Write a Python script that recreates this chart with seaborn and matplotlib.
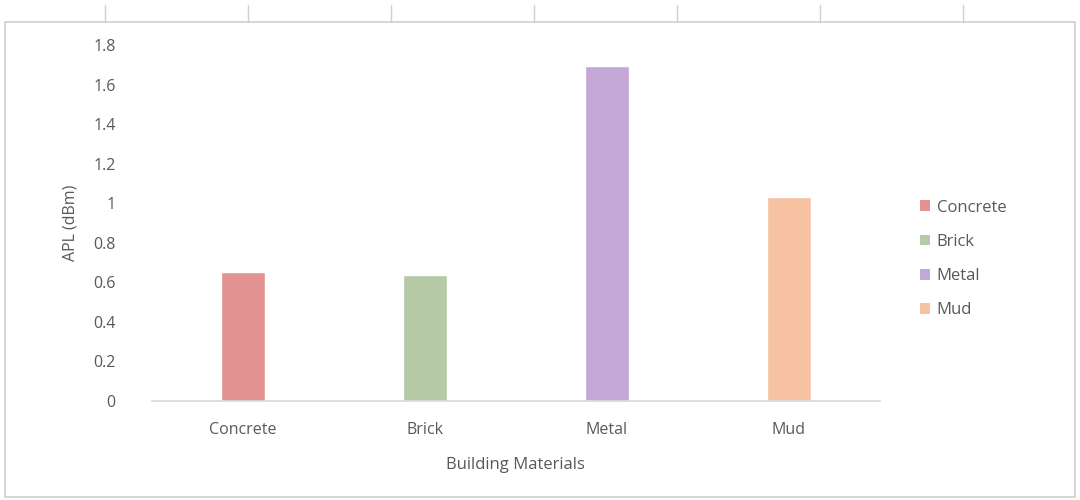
import numpy as np
import pandas as pd
import seaborn as sns
import matplotlib.pyplot as plt
from matplotlib.patches import Rectangle
from matplotlib.lines import Line2D

# Data
materials = ['Concrete', 'Brick', 'Metal', 'Mud']
apl = [0.652, 0.637, 1.694, 1.031]
colors = ['#e39292', '#b6c9a6', '#c3a7d7', '#f6c2a1']

df = pd.DataFrame({'Material': materials, 'APL': apl})

sns.set_style('white')
plt.rcParams['font.family'] = ['Open Sans', 'DejaVu Sans']
text_col = '#595959'

fig = plt.figure(figsize=(10.8, 5), dpi=100)
ax = fig.add_axes([0.1407, 0.198, 0.674, 0.712])

sns.barplot(data=df, x='Material', y='APL', hue='Material',
            palette=dict(zip(materials, colors)), width=0.24,
            saturation=1, legend=False, ax=ax)

ax.set_xlim(-0.5, 3.5)
ax.set_ylim(0, 1.8)
ax.set_yticks(np.arange(0, 1.81, 0.2))
ax.set_yticklabels(['0', '0.2', '0.4', '0.6', '0.8', '1', '1.2', '1.4', '1.6', '1.8'])
ax.tick_params(axis='both', length=0, labelsize=11.5, labelcolor=text_col)
ax.tick_params(axis='y', pad=26)
ax.tick_params(axis='x', pad=15)
for s in ['top', 'right', 'left']:
    ax.spines[s].set_visible(False)
ax.spines['bottom'].set_color('#d9d9d9')
ax.spines['bottom'].set_linewidth(1.2)

ax.set_xlabel('Building Materials', fontsize=12, color=text_col, labelpad=14)
ax.set_ylabel('APL (dBm)', fontsize=11.5, color=text_col, labelpad=11)

# legend
handles = [Rectangle((0, 0), 1, 1, facecolor=c, edgecolor='none') for c in colors]
fig.legend(handles, materials, loc='center left', bbox_to_anchor=(0.838, 0.482),
           frameon=False, fontsize=12, labelcolor=text_col,
           handlelength=0.6, handleheight=0.6, handletextpad=0.4,
           labelspacing=1.1)

# chart area border and spreadsheet grid
fig.add_artist(Rectangle((0.005, 0.006), 0.99, 0.95, transform=fig.transFigure,
                         fill=False, edgecolor='#d0d0d0', linewidth=1.2))
for gx in [105, 248, 391, 534, 677, 820, 963]:
    fig.add_artist(Line2D([gx / 1080, gx / 1080], [0.957, 0.99],
                          transform=fig.transFigure, color='#d0d0d0', linewidth=1))

fig.savefig('out.png', dpi=100)
